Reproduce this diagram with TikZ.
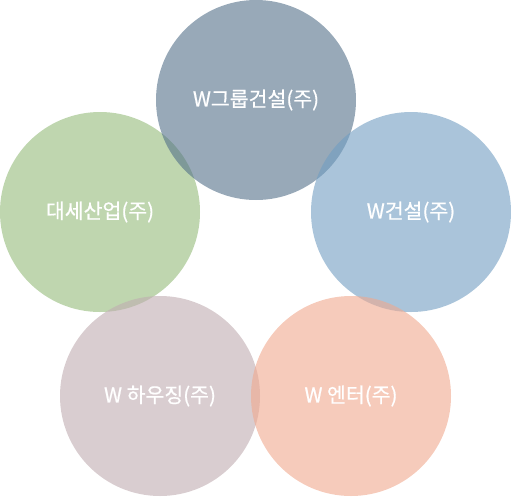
\documentclass[tikz,border=0pt]{standalone}
\usepackage{fontspec}
\newfontfamily\kofont{Noto Sans CJK KR}[FakeBold=0.6]
\definecolor{grpgray}{RGB}{83,112,137}
\definecolor{dsgreen}{RGB}{148,187,122}
\definecolor{wcblue}{RGB}{113,157,193}
\definecolor{whmauve}{RGB}{192,172,177}
\definecolor{wepeach}{RGB}{240,168,142}
\begin{document}
\begin{tikzpicture}[x=1pt,y=-1pt,
	company/.style={circle,minimum size=200pt,inner sep=0pt,fill opacity=0.6,text opacity=1,text=white,font=\kofont\fontsize{20.5}{24}\selectfont}
	]
	\useasboundingbox (0,0) rectangle (511,496);
	\node[company,fill=dsgreen](daese) at (100,212){대세산업(주)};
	\node[company,fill=grpgray](group) at (256,100){W그룹건설(주)};
	\node[company,fill=wcblue](wcon) at (411,212){W건설(주)};
	\node[company,fill=whmauve](whousing) at (160,396){W 하우징(주)};
	\node[company,fill=wepeach](wenter) at (351,396){W 엔터(주)};
\end{tikzpicture}
\end{document}
